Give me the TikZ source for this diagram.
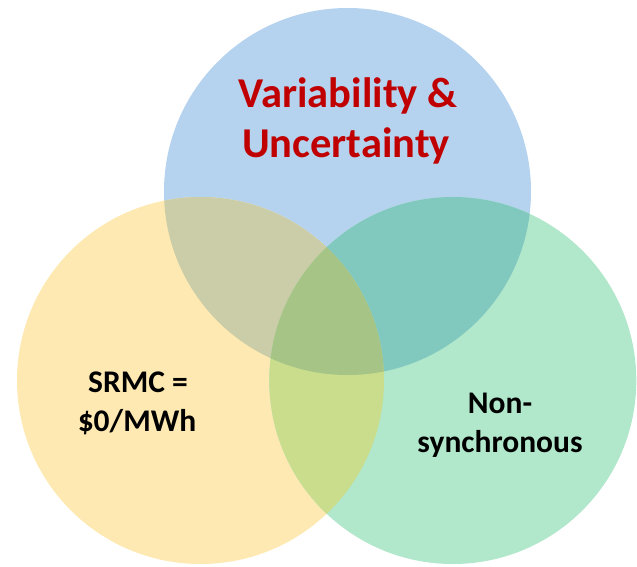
\documentclass[tikz,border=0pt]{standalone}
\usepackage{fontspec}
\setmainfont{Carlito}
\definecolor{cblue}{HTML}{B5D3EE}
\definecolor{cyellow}{HTML}{FDE9B1}
\definecolor{cgreen}{HTML}{B1E7CB}
\definecolor{cby}{HTML}{CBCDA8}
\definecolor{cbg}{HTML}{81C8BF}
\definecolor{cyg}{HTML}{C9DD8D}
\definecolor{cbyg}{HTML}{A5C486}
\definecolor{titlered}{HTML}{C00000}
\tikzset{
  redlabel/.style={anchor=base, inner sep=0pt, text=titlered, font=\fontsize{42.5}{50}\selectfont\bfseries},
  blacklabel/.style={anchor=base, inner sep=0pt, text=black, font=\fontsize{31.5}{38}\selectfont\bfseries},
}
\begin{document}
\begin{tikzpicture}[x=1pt,y=-1pt]
\useasboundingbox (0,0) rectangle (637,566);
\def\R{183.5pt}
\coordinate (cb) at (347.5,191.5);
\coordinate (cy) at (200.5,380.5);
\coordinate (cg) at (452.8,380.5);
% three sets
\fill[cblue] (cb) circle[radius=\R];
\fill[cyellow] (cy) circle[radius=\R];
\fill[cgreen] (cg) circle[radius=\R];
% pairwise overlaps
\begin{scope}
  \clip (cb) circle[radius=\R];
  \fill[cby] (cy) circle[radius=\R];
  \fill[cbg] (cg) circle[radius=\R];
\end{scope}
\begin{scope}
  \clip (cy) circle[radius=\R];
  \fill[cyg] (cg) circle[radius=\R];
\end{scope}
% common region
\begin{scope}
  \clip (cb) circle[radius=\R];
  \clip (cy) circle[radius=\R];
  \fill[cbyg] (cg) circle[radius=\R];
\end{scope}
% labels
\node[redlabel] (v1) at (348,107) {Variability \&};
\node[redlabel] (v2) at (346,157) {Uncertainty};
\node[blacklabel] (s1) at (138,392) {SRMC =};
\node[blacklabel] (s2) at (137,431) {\$0/MWh};
\node[blacklabel] (n1) at (500,413) {Non-};
\node[blacklabel] (n2) at (500,452) {synchronous};
\end{tikzpicture}
\end{document}
